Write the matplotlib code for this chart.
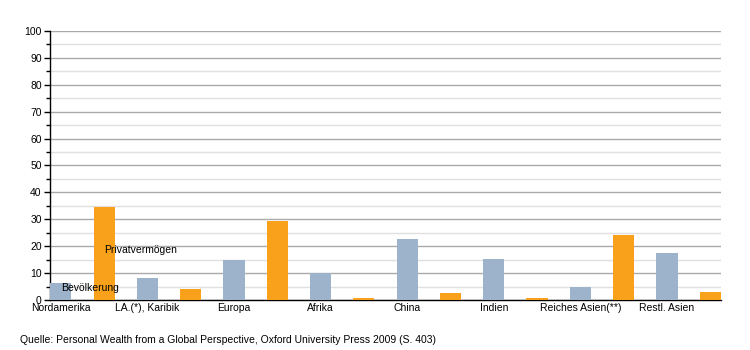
import matplotlib
matplotlib.use("Agg")
import matplotlib.pyplot as plt
import numpy as np

plt.rcParams["font.family"] = ["Liberation Sans", "DejaVu Sans"]

# Regions and shares in percent
regions = ["Nordamerika", "LA.(*), Karibik", "Europa", "Afrika", "China",
           "Indien", "Reiches Asien(**)", "Restl. Asien"]
bevoelkerung = [6.2, 8.3, 14.9, 9.9, 22.8, 15.2, 4.8, 17.5]
privatvermoegen = [34.5, 4.2, 29.5, 0.9, 2.7, 0.8, 24.2, 3.0]

COLOR_POP = "#9db3cb"
COLOR_WEALTH = "#f9a11b"

fig = plt.figure(figsize=(7.5, 3.5), dpi=100)
ax = fig.add_axes([0.0667, 0.1429, 0.8947, 0.7685])

idx = np.arange(len(regions))
x_pop = idx * 2
x_wealth = idx * 2 + 1
ax.bar(x_pop, bevoelkerung, width=0.49, color=COLOR_POP, zorder=3)
ax.bar(x_wealth, privatvermoegen, width=0.49, color=COLOR_WEALTH, zorder=3)

ax.set_xlim(-0.25, 15.25)
ax.set_ylim(0, 100)

ax.set_yticks(np.arange(0, 101, 10))
ax.set_yticks(np.arange(5, 100, 10), minor=True)
ax.grid(axis="y", which="major", color="#aaaaaa", linewidth=1, zorder=0)
ax.grid(axis="y", which="minor", color="#e0e0e0", linewidth=1, zorder=0)
ax.tick_params(axis="y", which="major", length=4, width=1, labelsize=7.5, pad=2)
ax.tick_params(axis="y", which="minor", length=3, width=1)

ax.set_xticks(x_pop)
ax.set_xticklabels(regions, fontsize=7.5)
ax.tick_params(axis="x", length=0, pad=2)

for side in ("top", "right"):
    ax.spines[side].set_visible(False)
ax.spines["left"].set_linewidth(1)
ax.spines["bottom"].set_linewidth(1)

# series names written inside the plot area
ax.text(1.0, 18.5, "Privatvermögen", fontsize=7.5, va="center", ha="left", zorder=4)
ax.text(0.0, 4.5, "Bevölkerung", fontsize=7.5, va="center", ha="left", zorder=4)

fig.text(20 / 750, 1 - 340 / 350,
         "Quelle: Personal Wealth from a Global Perspective, Oxford University Press 2009 (S. 403)",
         fontsize=7.5, va="center", ha="left")

fig.savefig("out.png", dpi=100)
